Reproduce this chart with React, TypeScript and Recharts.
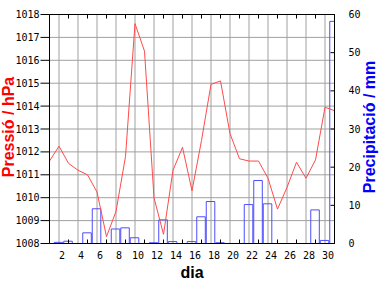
import { Bar, CartesianGrid, ComposedChart, Line, XAxis, YAxis } from "recharts";

/* ────────── daily pressure (line) + precipitation (bars) ────────── */

const days = [
  1, 2, 3, 4, 5, 6, 7, 8, 9, 10, 11, 12, 13, 14, 15, 16, 17, 18, 19, 20, 21,
  22, 23, 24, 25, 26, 27, 28, 29, 30, 31,
];

const pressure = [
  1011.6, 1012.25, 1011.5, 1011.2, 1011.0, 1010.25, 1008.3, 1009.4, 1011.8,
  1017.6, 1016.4, 1010.0, 1008.4, 1011.2, 1012.2, 1010.3, 1012.5, 1014.95,
  1015.1, 1012.8, 1011.7, 1011.6, 1011.6, 1010.85, 1009.5, 1010.45, 1011.55,
  1010.85, 1011.65, 1013.95, 1013.8,
];

const rain = [
  0, 0.3, 0.6, 0, 2.8, 9.1, 0, 3.8, 4.1, 1.5, 0, 0.2, 6.2, 0.5, 0, 0.5, 7.0,
  11.0, 0.2, 0, 0, 10.2, 16.5, 10.4, 0, 0, 0, 0, 8.8, 0.8, 58.2,
];

const dayTicks = [2, 4, 6, 8, 10, 12, 14, 16, 18, 20, 22, 24, 26, 28, 30];
const hpaTicks = [
  1008, 1009, 1010, 1011, 1012, 1013, 1014, 1015, 1016, 1017, 1018,
];
const mmTicks = [0, 10, 20, 30, 40, 50, 60];

const data = days.map((dia, i) => ({ dia, hpa: pressure[i], mm: rain[i] }));

const tickFont = { fontFamily: "DejaVu Sans Mono", fontSize: 10, fill: "#000" };
const titleFont = { fontFamily: "Liberation Sans", fontSize: 16, fontWeight: 700 };
const noLabel = () => <g />;

// rotated axis title, baseline placed inside the axis box
function SideTitle(props: any) {
  const { viewBox, text, color, inset } = props;
  const x = viewBox.x + inset;
  const y = viewBox.y + viewBox.height / 2 - 2;
  return (
    <text
      x={x}
      y={y}
      transform={`rotate(-90, ${x}, ${y})`}
      textAnchor="middle"
      fill={color}
      {...titleFont}
    >
      {text}
    </text>
  );
}

function BottomTitle(props: any) {
  const { viewBox } = props;
  return (
    <text
      x={viewBox.x + viewBox.width / 2}
      y={viewBox.y + 34.5}
      textAnchor="middle"
      fill="#000"
      {...titleFont}
    >
      dia
    </text>
  );
}

export default function App() {
  return (
    <div
      style={{
        position: "absolute",
        left: 0,
        top: 0,
        width: 384,
        height: 288,
        background: "#fff",
      }}
    >
      <ComposedChart
        width={384}
        height={288}
        data={data}
        margin={{ top: 14.5, right: 0, bottom: 0, left: 0 }}
      >
        <CartesianGrid xAxisId="x" yAxisId="hpa" stroke="#a0a0a0" />
        <XAxis
          xAxisId="x"
          dataKey="dia"
          type="number"
          domain={[1, 31]}
          ticks={dayTicks}
          interval={0}
          allowDataOverflow
          height={44.5}
          tickLine={false}
          tickSize={6}
          tickMargin={2}
          axisLine={{ stroke: "#000" }}
          tick={{ ...tickFont, dx: 3 }}
          label={<BottomTitle />}
        />
        <XAxis
          xAxisId="xb"
          type="number"
          domain={[1, 31]}
          ticks={dayTicks}
          interval={0}
          allowDataOverflow
          mirror
          tickSize={4}
          tickLine={{ stroke: "#000" }}
          axisLine={false}
          tick={noLabel}
        />
        <XAxis
          xAxisId="xt"
          orientation="top"
          type="number"
          domain={[1, 31]}
          ticks={dayTicks}
          interval={0}
          allowDataOverflow
          mirror
          tickSize={4}
          tickLine={{ stroke: "#000" }}
          axisLine={{ stroke: "#000" }}
          tick={noLabel}
        />
        <YAxis
          yAxisId="hpa"
          orientation="left"
          domain={[1008, 1018]}
          ticks={hpaTicks}
          interval={0}
          allowDataOverflow
          width={49.5}
          tickSize={9}
          tickMargin={1}
          tickLine={{ stroke: "#000" }}
          axisLine={{ stroke: "#000" }}
          tick={tickFont}
          label={<SideTitle text="Pressió / hPa" color="#ff0000" inset={13.5} />}
        />
        <YAxis
          yAxisId="mm"
          orientation="right"
          domain={[0, 60]}
          ticks={mmTicks}
          interval={0}
          allowDataOverflow
          width={49.5}
          tickSize={12}
          tickMargin={2}
          tickLine={false}
          axisLine={{ stroke: "#000" }}
          tick={tickFont}
          label={
            <SideTitle text="Precipitació / mm" color="#0000ff" inset={40.5} />
          }
        />
        <YAxis
          yAxisId="mmt"
          orientation="right"
          domain={[0, 60]}
          ticks={mmTicks}
          interval={0}
          allowDataOverflow
          mirror
          tickSize={4}
          tickLine={{ stroke: "#000" }}
          axisLine={false}
          tick={noLabel}
        />
        <Bar
          xAxisId="x"
          yAxisId="mm"
          dataKey="mm"
          barSize={9.5}
          fill="none"
          stroke="#4d4dff"
          isAnimationActive={false}
        />
        <Line
          xAxisId="x"
          yAxisId="hpa"
          dataKey="hpa"
          type="linear"
          stroke="#ff4a4a"
          strokeWidth={1}
          dot={false}
          isAnimationActive={false}
        />
      </ComposedChart>
    </div>
  );
}
